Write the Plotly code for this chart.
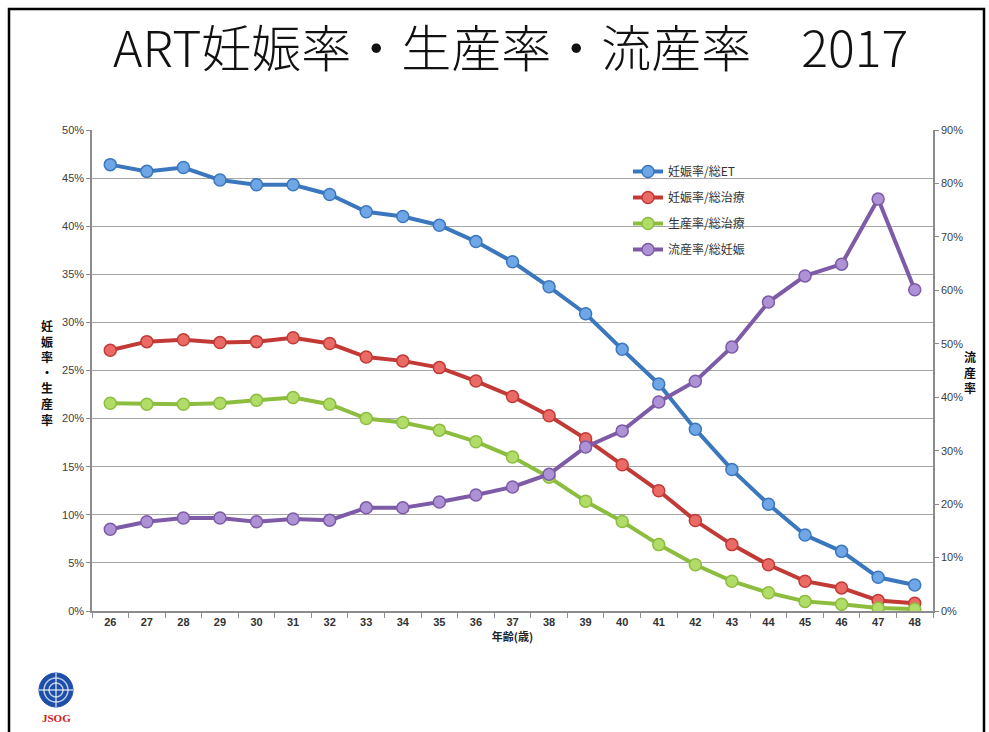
import plotly.graph_objects as go

ages = [str(a) for a in range(26, 49)]

# 妊娠率/総ET (%)
preg_per_et = [46.4, 45.7, 46.1, 44.8, 44.3, 44.3, 43.3, 41.5, 41.0, 40.1, 38.4, 36.3,
               33.7, 30.9, 27.2, 23.6, 18.9, 14.7, 11.1, 7.9, 6.2, 3.5, 2.7]
# 妊娠率/総治療 (%)
preg_per_cycle = [27.1, 28.0, 28.2, 27.9, 28.0, 28.4, 27.8, 26.4, 26.0, 25.3, 23.9, 22.3,
                  20.3, 17.9, 15.2, 12.5, 9.4, 6.9, 4.8, 3.1, 2.4, 1.1, 0.8]
# 生産率/総治療 (%)
live_birth_per_cycle = [21.6, 21.5, 21.5, 21.6, 21.9, 22.2, 21.5, 20.0, 19.6, 18.8, 17.6, 16.0,
                        13.9, 11.4, 9.3, 6.9, 4.8, 3.1, 1.9, 1.0, 0.7, 0.3, 0.2]
# 流産率/総妊娠 (%), right axis
miscarriage_per_preg = [15.3, 16.7, 17.4, 17.4, 16.7, 17.2, 17.0, 19.3, 19.3, 20.4, 21.7, 23.2,
                        25.6, 30.7, 33.7, 39.1, 43.0, 49.4, 57.8, 62.7, 64.9, 77.1, 60.1]

left_ticks = list(range(0, 51, 5))
right_ticks = list(range(0, 91, 10))

series = [
    ("妊娠率/総ET", preg_per_et, "#3b77bd", "#6fa6e6", "y"),
    ("妊娠率/総治療", preg_per_cycle, "#c23a36", "#ea6b66", "y"),
    ("生産率/総治療", live_birth_per_cycle, "#8cbd3f", "#b2dc68", "y"),
    ("流産率/総妊娠", miscarriage_per_preg, "#7d5ba6", "#ad92d6", "y2"),
]

fig = go.Figure()
for i, (name, vals, line_c, fill_c, ax) in enumerate(series):
    fig.add_trace(go.Scatter(
        x=ages, y=vals, name=name, yaxis=ax, mode="lines+markers",
        legendgroup=f"g{i}",
        line=dict(color=line_c, width=4),
        marker=dict(size=12, color=fill_c, line=dict(color=line_c, width=1.5)),
    ))

# plot-area pixel geometry helpers (figure is 989 x 732)
L, R, T, B = 92, 933, 130, 611
def px(x):
    return (x - L) / (R - L)
def py(y):
    return (B - y) / (B - T)

tick_font = dict(family="Liberation Sans, Arial", size=11, color="#404040")
axis_grey = "#8c8c8c"

fig.update_layout(
    width=989, height=732,
    margin=dict(l=L, r=989 - R, t=T, b=732 - B),
    paper_bgcolor="white", plot_bgcolor="white",
    showlegend=True,
    legend=dict(
        x=px(628), y=py(157), xanchor="left", yanchor="top",
        bgcolor="rgba(0,0,0,0)", tracegroupgap=7,
        font=dict(family="Noto Sans CJK JP", size=12, color="#333"),
        itemwidth=30,
    ),
    xaxis=dict(
        type="category", showgrid=False, showline=True, linecolor=axis_grey, linewidth=1.5,
        ticks="outside", tickson="boundaries", ticklen=5, tickcolor=axis_grey,
        tickfont=dict(family="Liberation Sans, Arial", size=11, color="#333", weight="bold"),
        title=dict(text="年齢(歳)", font=dict(family="Noto Sans CJK JP", size=11, color="#222", weight="bold"),
                   standoff=6),
        range=[-0.5, len(ages) - 0.5],
    ),
    yaxis=dict(
        range=[0, 50], tickvals=left_ticks, ticktext=[f"{v}%" for v in left_ticks],
        showgrid=True, gridcolor="#a6a6a6", gridwidth=1.2,
        showline=True, linecolor=axis_grey, linewidth=1.5,
        ticks="outside", ticklen=4, tickcolor=axis_grey, tickfont=tick_font,
        zeroline=False,
    ),
    yaxis2=dict(
        range=[0, 90], tickvals=right_ticks, ticktext=[f"{v}%" for v in right_ticks],
        overlaying="y", side="right", showgrid=False,
        showline=True, linecolor=axis_grey, linewidth=1.5,
        ticks="outside", ticklen=4, tickcolor=axis_grey, tickfont=tick_font,
        zeroline=False,
    ),
)

# title
fig.add_annotation(
    text="ART妊娠率・生産率・流産率　2017", xref="paper", yref="paper",
    x=px(510), y=py(45), xanchor="center", yanchor="middle", showarrow=False,
    font=dict(family="Noto Sans CJK JP", size=50, color="#111", weight=300),
)

# vertical axis titles
fig.add_annotation(
    text="妊<br>娠<br>率<br>・<br>生<br>産<br>率", xref="paper", yref="paper",
    x=px(47), y=py(372), xanchor="center", yanchor="middle", showarrow=False,
    font=dict(family="Noto Sans CJK JP", size=12, color="#111", weight="bold"),
    align="center",
)
fig.add_annotation(
    text="流<br>産<br>率", xref="paper", yref="paper",
    x=px(970), y=py(372), xanchor="center", yanchor="middle", showarrow=False,
    font=dict(family="Noto Sans CJK JP", size=12, color="#111", weight="bold"),
    align="center",
)

# slide frame
fig.add_shape(type="rect", xref="paper", yref="paper",
              x0=px(9), x1=px(984), y0=py(745), y1=py(9),
              line=dict(color="black", width=2.5), fillcolor="rgba(0,0,0,0)", layer="above")

# JSOG emblem
cx, cy, r = 56, 690, 17
fig.add_shape(type="circle", xref="paper", yref="paper",
              x0=px(cx - r), x1=px(cx + r), y0=py(cy + r), y1=py(cy - r),
              fillcolor="#1d4fa8", line=dict(color="#1d4fa8", width=1))
for dr in (5, 10):
    fig.add_shape(type="circle", xref="paper", yref="paper",
                  x0=px(cx - r + dr), x1=px(cx + r - dr), y0=py(cy + r - dr), y1=py(cy - r + dr),
                  fillcolor="rgba(0,0,0,0)", line=dict(color="rgba(255,255,255,0.7)", width=1.5))
fig.add_shape(type="line", xref="paper", yref="paper",
              x0=px(cx - r), x1=px(cx + r), y0=py(cy), y1=py(cy),
              line=dict(color="rgba(255,255,255,0.7)", width=1.5))
fig.add_shape(type="line", xref="paper", yref="paper",
              x0=px(cx), x1=px(cx), y0=py(cy + r), y1=py(cy - r),
              line=dict(color="rgba(255,255,255,0.7)", width=1.5))
fig.add_annotation(
    text="JSOG", xref="paper", yref="paper", x=px(cx), y=py(718),
    xanchor="center", yanchor="middle", showarrow=False,
    font=dict(family="Liberation Serif, Times New Roman", size=11, color="#d02020", weight="bold"),
)

fig.write_html("out.html")
